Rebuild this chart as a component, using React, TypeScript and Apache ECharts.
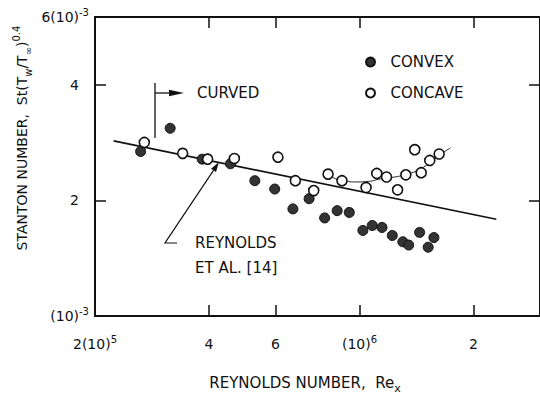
import React, { useEffect, useRef } from "react";
import * as echarts from "echarts";

// Convex wall data (filled circles)
const convexRe = [2.64e5, 3.16e5, 3.84e5, 4.56e5, 5.29e5, 5.97e5, 6.67e5, 7.36e5, 8.09e5, 8.73e5, 9.4e5, 1.021e6, 1.081e6, 1.147e6, 1.221e6, 1.302e6, 1.349e6, 1.442e6, 1.519e6, 1.573e6];
const convexSt = [2.68e-3, 3.08e-3, 2.56e-3, 2.49e-3, 2.25e-3, 2.14e-3, 1.9e-3, 2.02e-3, 1.8e-3, 1.88e-3, 1.86e-3, 1.67e-3, 1.72e-3, 1.7e-3, 1.62e-3, 1.56e-3, 1.53e-3, 1.65e-3, 1.51e-3, 1.6e-3];
// Concave wall data (open circles)
const concaveRe = [2.7e5, 3.41e5, 3.97e5, 4.67e5, 6.09e5, 6.77e5, 7.57e5, 8.26e5, 8.99e5, 1.041e6, 1.111e6, 1.179e6, 1.261e6, 1.326e6, 1.4e6, 1.456e6, 1.534e6, 1.624e6];
const concaveSt = [2.83e-3, 2.65e-3, 2.56e-3, 2.57e-3, 2.59e-3, 2.25e-3, 2.12e-3, 2.34e-3, 2.25e-3, 2.16e-3, 2.35e-3, 2.3e-3, 2.13e-3, 2.33e-3, 2.71e-3, 2.36e-3, 2.54e-3, 2.64e-3];
// Reynolds et al. [14] correlation
const reynoldsRe = [2.24e5, 2.3e6];
const reynoldsSt = [2.856e-3, 1.786e-3];
// Faired curve through concave data
const concaveFitRe = [8.44e5, 9.08e5, 9.83e5, 1.057e6, 1.137e6, 1.222e6, 1.315e6, 1.415e6, 1.521e6, 1.617e6, 1.74e6];
const concaveFitSt = [2.3e-3, 2.247e-3, 2.233e-3, 2.24e-3, 2.274e-3, 2.295e-3, 2.329e-3, 2.386e-3, 2.488e-3, 2.61e-3, 2.739e-3];

// Axis ticks & labels
const xLabelValues = [2e5, 4e5, 6e5, 1e6, 2e6];
const xLabelMain = ["2(10)", "4", "6", "(10)", "2"];
const xLabelSup = ["5", "", "", "6", ""];
const xTickValues = [4e5, 6e5, 1e6, 2e6];
const yLabelValues = [1e-3, 2e-3, 4e-3, 6e-3];
const yLabelMain = ["(10)", "2", "4", "6(10)"];
const yLabelSup = ["-3", "", "", "-3"];
const yTickValues = [2e-3, 4e-3];

const FONT = "DejaVu Sans";
const INK = "#111";

function findIdx(vals: number[], v: number) {
  for (let i = 0; i < vals.length; i++) {
    if (Math.abs(Math.log10(vals[i]) - Math.log10(v)) < 1e-4) return i;
  }
  return -1;
}

export default function App() {
  const ref = useRef<HTMLDivElement>(null);
  useEffect(() => {
    if (!ref.current) return;
    const chart = echarts.init(ref.current, undefined, { renderer: "svg" });
    const zip = (a: number[], b: number[]) => a.map((v, i) => [v, b[i]]);

    const labelRich = {
      m: { fontSize: 14, lineHeight: 20, fontFamily: FONT, color: INK },
      p: { fontSize: 14, lineHeight: 20, fontFamily: FONT, color: INK, padding: [0, 10, 0, 0] },
      s: { fontSize: 10, lineHeight: 10, fontFamily: FONT, color: INK, verticalAlign: "top" },
    };

    const axisLineStyle = { show: true, lineStyle: { color: INK, width: 2 } };
    const tickStyle = (vals: number[]) => ({
      show: true,
      inside: true,
      length: 11,
      customValues: vals,
      lineStyle: { color: INK, width: 1.5 },
    });

    const option: any = {
      animation: false,
      backgroundColor: "#fff",
      grid: { left: 95, top: 17, width: 446, height: 299, containLabel: false },
      xAxis: [
        {
          type: "log",
          logBase: 10,
          min: 2e5,
          max: 3e6,
          position: "bottom",
          axisLine: axisLineStyle,
          axisTick: tickStyle(xTickValues),
          minorTick: { show: false },
          splitLine: { show: false },
          axisLabel: {
            show: true,
            margin: 18,
            customValues: xLabelValues,
            rich: labelRich,
            formatter: (v: number) => {
              const i = findIdx(xLabelValues, v);
              if (i < 0) return "";
              return "{m|" + xLabelMain[i] + "}" + (xLabelSup[i] ? "{s|" + xLabelSup[i] + "}" : "");
            },
          },
        },
        {
          type: "log",
          logBase: 10,
          min: 2e5,
          max: 3e6,
          position: "top",
          axisLine: axisLineStyle,
          axisTick: tickStyle(xTickValues),
          splitLine: { show: false },
          axisLabel: { show: false },
        },
      ],
      yAxis: [
        {
          type: "log",
          logBase: 10,
          min: 1e-3,
          max: 6e-3,
          position: "left",
          axisLine: axisLineStyle,
          axisTick: tickStyle(yTickValues),
          splitLine: { show: false },
          axisLabel: {
            show: true,
            margin: 6,
            customValues: yLabelValues,
            rich: labelRich,
            formatter: (v: number) => {
              const i = findIdx(yLabelValues, v);
              if (i < 0) return "";
              if (!yLabelSup[i]) return "{p|" + yLabelMain[i] + "}";
              return "{m|" + yLabelMain[i] + "}{s|" + yLabelSup[i] + "}";
            },
          },
        },
        {
          type: "log",
          logBase: 10,
          min: 1e-3,
          max: 6e-3,
          position: "right",
          axisLine: axisLineStyle,
          axisTick: tickStyle(yTickValues),
          splitLine: { show: false },
          axisLabel: { show: false },
        },
      ],
      legend: {
        orient: "vertical",
        left: 360,
        top: 49,
        itemWidth: 30,
        itemHeight: 9,
        itemGap: 15,
        data: ["CONVEX", "CONCAVE"],
        textStyle: { fontSize: 15, fontFamily: FONT, color: INK, lineHeight: 16 },
      },
      series: [
        {
          name: "REYNOLDS ET AL. [14]",
          type: "line",
          data: zip(reynoldsRe, reynoldsSt),
          showSymbol: false,
          symbol: "none",
          lineStyle: { color: INK, width: 1.7 },
          z: 2,
        },
        {
          name: "CONCAVE FIT",
          type: "line",
          data: zip(concaveFitRe, concaveFitSt),
          smooth: true,
          showSymbol: false,
          symbol: "none",
          lineStyle: { color: "#222", width: 1 },
          z: 2,
        },
        {
          name: "CONVEX",
          type: "scatter",
          data: zip(convexRe, convexSt),
          symbol: "circle",
          symbolSize: 10,
          itemStyle: { color: "#333", borderColor: "#111", borderWidth: 1, opacity: 1 },
          z: 3,
        },
        {
          name: "CONCAVE",
          type: "scatter",
          data: zip(concaveRe, concaveSt),
          symbol: "circle",
          symbolSize: 10,
          itemStyle: { color: "#fff", borderColor: "#111", borderWidth: 1.6, opacity: 1 },
          z: 4,
        },
      ],
      graphic: [
        { type: "line", shape: { x1: 155, y1: 83, x2: 155, y2: 138 }, style: { stroke: INK, lineWidth: 1.3 } },
        { type: "line", shape: { x1: 155, y1: 93, x2: 172, y2: 93 }, style: { stroke: INK, lineWidth: 1.3 } },
        { type: "polygon", shape: { points: [[169, 89.8], [184, 93], [169, 96.2]] }, style: { fill: INK } },
        {
          type: "text",
          x: 197,
          y: 93,
          style: { text: "CURVED", fontSize: 15, fontFamily: FONT, fill: INK, align: "left", verticalAlign: "middle" },
        },
        {
          type: "text",
          x: 195,
          y: 243,
          style: { text: "REYNOLDS", fontSize: 15, fontFamily: FONT, fill: INK, align: "left", verticalAlign: "middle" },
        },
        {
          type: "text",
          x: 195,
          y: 268,
          style: { text: "ET AL. [14]", fontSize: 15, fontFamily: FONT, fill: INK, align: "left", verticalAlign: "middle" },
        },
        {
          type: "polyline",
          shape: { points: [[177, 243], [165, 243], [213.5, 170.3]] },
          style: { stroke: INK, lineWidth: 1.2, fill: "none" },
        },
        { type: "polygon", shape: { points: [[219, 162], [216, 172], [211, 168.7]] }, style: { fill: INK } },
        {
          type: "text",
          x: 305,
          y: 383,
          style: {
            text: "{a|REYNOLDS NUMBER,  Re}{b|x}",
            align: "center",
            verticalAlign: "middle",
            fill: INK,
            rich: {
              a: { fontSize: 15, lineHeight: 22, fontFamily: FONT, fill: INK },
              b: { fontSize: 11, lineHeight: 11, fontFamily: FONT, fill: INK, verticalAlign: "bottom" },
            },
          },
        },
        {
          type: "text",
          x: 22,
          y: 138,
          rotation: Math.PI / 2,
          style: {
            text: "{a|STANTON NUMBER,  St(T}{b|w}{a|/T}{b|∞}{a|)}{c|0.4}",
            align: "center",
            verticalAlign: "middle",
            fill: INK,
            rich: {
              a: { fontSize: 14, lineHeight: 22, fontFamily: FONT, fill: INK },
              b: { fontSize: 10, lineHeight: 10, fontFamily: FONT, fill: INK, verticalAlign: "bottom" },
              c: { fontSize: 10, lineHeight: 10, fontFamily: FONT, fill: INK, verticalAlign: "top" },
            },
          },
        },
      ],
    };
    chart.setOption(option);
    return () => chart.dispose();
  }, []);
  return (
    <div
      ref={ref}
      style={{ position: "fixed", left: 0, top: 0, width: 540, height: 394, background: "#fff" }}
    />
  );
}
